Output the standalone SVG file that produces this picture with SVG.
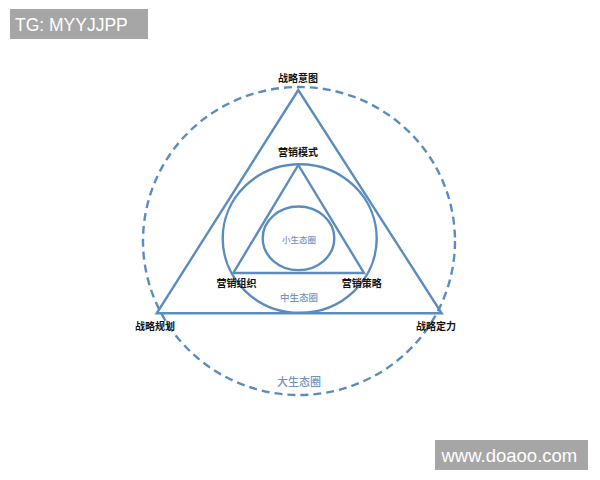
<svg xmlns="http://www.w3.org/2000/svg" width="600" height="480" viewBox="0 0 600 480">
<style>
.ln{fill:none;stroke:#5b8cbf;stroke-width:2.4}
.dash{fill:none;stroke:#5b8cbf;stroke-width:2.4;stroke-dasharray:8 5}
.lb{font-family:"Noto Sans CJK SC","Noto Sans",sans-serif;font-weight:bold;font-size:10px;fill:#111;text-anchor:middle}
.eco{font-family:"Noto Sans CJK SC","Noto Sans",sans-serif;fill:#7393bd;text-anchor:middle}
.wm{font-family:"Liberation Sans",Arial,sans-serif;fill:#fff}
</style>
<rect width="600" height="480" fill="#fff"/>
<g id="connectors">
<ellipse id="big-circle" class="dash" cx="299" cy="241" rx="156" ry="154"/>
<polygon id="big-triangle" class="ln" points="298.3,90 156.7,313.3 441.7,313.3"/>
<ellipse id="mid-circle" class="ln" cx="299.7" cy="238.5" rx="77" ry="74.3"/>
<polygon id="inner-triangle" class="ln" points="298.3,165 233.3,273 364,273"/>
<ellipse id="small-circle" class="ln" cx="298.5" cy="238.3" rx="35.8" ry="31.8"/>
</g>
<g id="n-zhanlueyitu"><text class="lb" x="298" y="82">战略意图</text></g>
<g id="n-zhanlueguihua"><text class="lb" x="155" y="330">战略规划</text></g>
<g id="n-zhanluedingli"><text class="lb" x="436" y="330">战略定力</text></g>
<g id="n-yingxiaomoshi"><text class="lb" x="298" y="156">营销模式</text></g>
<g id="n-yingxiaozuzhi"><text class="lb" x="236.5" y="287">营销组织</text></g>
<g id="n-yingxiaocelue"><text class="lb" x="361.7" y="287">营销策略</text></g>
<g id="n-xiao"><text class="eco" x="299" y="243" font-size="8.5px" font-weight="500">小生态圈</text></g>
<g id="n-zhong"><text class="eco" x="299" y="301" font-size="9.5px" font-weight="500">中生态圈</text></g>
<g id="n-da"><text class="eco" x="299" y="386" font-size="11px" font-weight="500">大生态圈</text></g>
<g id="wm-tg"><rect x="10" y="9" width="138" height="30" fill="#a6a6a6"/><text class="wm" x="15" y="31" font-size="17.5px">TG: MYYJJPP</text></g>
<g id="wm-site"><rect x="435" y="440" width="153" height="30" fill="#a6a6a6"/><text class="wm" x="441.5" y="462" font-size="18.5px">www.doaoo.com</text></g>
</svg>
